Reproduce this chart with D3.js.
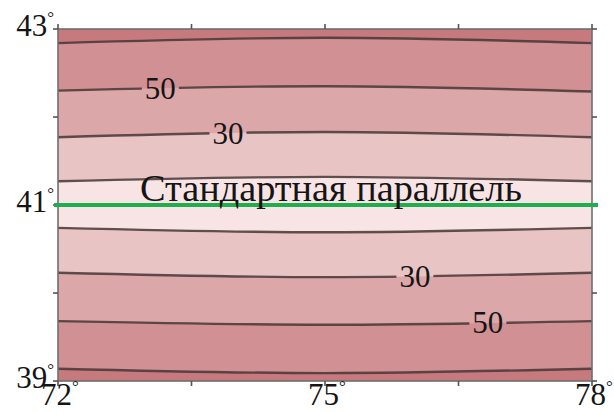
<!DOCTYPE html>
<html>
<head>
<meta charset="utf-8">
<script src="https://cdn.jsdelivr.net/npm/d3@7"></script>
<style>
  html, body { margin: 0; padding: 0; background: #fff; }
</style>
</head>
<body>
<svg id="chart" width="614" height="412"></svg>
<script>
(function() {
    'use strict';

    var SERIF = '"Liberation Serif", Tinos, "Times New Roman", Times, "DejaVu Serif", "Noto Serif", serif';

    // Longitudes where contour lines are read (edges and centre)
    var contourLons = [72, 75, 78];

    // Contour lines above the standard parallel (lat at 72°, 75°, 78°), inner -> outer
    var upperLines = [
        [41.27, 41.32, 41.27],
        [41.77, 41.83, 41.77],
        [42.30, 42.35, 42.29],
        [42.84, 42.90, 42.84]
    ];
    // Contour lines below the standard parallel, inner -> outer
    var lowerLines = [
        [40.74, 40.69, 40.74],
        [40.23, 40.18, 40.23],
        [39.68, 39.64, 39.68],
        [39.14, 39.09, 39.14]
    ];

    // Band fill colours, outermost -> innermost
    var bandColors = ['#c77a7e', '#d19093', '#dca7a8', '#e9c4c5', '#f8e4e5'];

    var contourLabels = [
        { text: '50', lon: 73.15, lat: 42.33 },
        { text: '30', lon: 73.91, lat: 41.82 },
        { text: '30', lon: 76.01, lat: 40.19 },
        { text: '50', lon: 76.83, lat: 39.665 }
    ];

    var lonTicks = [72, 73.5, 75, 76.5, 78];
    var lonLabels = [72, 75, 78];
    var latTicks = [39, 40, 41, 42, 43];
    var latLabels = [39, 41, 43];

    var standardParallel = 41;
    var parallelName = 'Стандартная параллель';

    var svg = d3.select('#chart');
    var margin = { top: 29, right: 22, bottom: 31, left: 58 };
    var width = 614, height = 412;

    var x = d3.scaleLinear().domain([72, 78]).range([margin.left, width - margin.right]);
    var y = d3.scaleLinear().domain([39, 43]).range([height - margin.bottom, margin.top]);

    var x0 = x(72), x1 = x(78), y0 = y(43), y1 = y(39);

    var line = d3.line()
        .x(function(d) { return x(d[0]); })
        .y(function(d) { return y(d[1]); })
        .curve(d3.curveNatural);

    function pts(lats) {
        return contourLons.map(function(lon, i) { return [lon, lats[i]]; });
    }

    var defs = svg.append('defs');
    defs.append('clipPath').attr('id', 'plot-clip')
        .append('rect').attr('x', x0).attr('y', y0).attr('width', x1 - x0).attr('height', y1 - y0);

    var plot = svg.append('g').attr('clip-path', 'url(#plot-clip)');

    // Base (outermost band)
    plot.append('rect')
        .attr('x', x0).attr('y', y0).attr('width', x1 - x0).attr('height', y1 - y0)
        .attr('fill', bandColors[0]);

    // Nested bands: region between upper line k and lower line k
    for (var k = upperLines.length - 1; k >= 0; k--) {
        var upPath = line(pts(upperLines[k]));
        var loPath = line(pts(lowerLines[k]).reverse()).replace(/^M/, 'L');
        plot.append('path')
            .attr('d', upPath + loPath + 'Z')
            .attr('fill', bandColors[upperLines.length - k]);
    }

    // Contour lines with gaps behind labels
    var mask = defs.append('mask').attr('id', 'label-mask').attr('maskUnits', 'userSpaceOnUse')
        .attr('x', 0).attr('y', 0).attr('width', width).attr('height', height);
    mask.append('rect').attr('width', width).attr('height', height).attr('fill', '#fff');

    var linesG = plot.append('g').attr('mask', 'url(#label-mask)');
    upperLines.concat(lowerLines).forEach(function(lats) {
        linesG.append('path')
            .attr('d', line(pts(lats)))
            .attr('fill', 'none')
            .attr('stroke', '#463636')
            .attr('stroke-opacity', 0.85)
            .attr('stroke-width', 2.4);
    });

    var labelG = svg.append('g');
    contourLabels.forEach(function(d) {
        var t = labelG.append('text')
            .attr('x', x(d.lon))
            .attr('y', y(d.lat))
            .attr('dy', '0.35em')
            .attr('text-anchor', 'middle')
            .attr('font-family', SERIF)
            .attr('font-size', 31)
            .attr('fill', '#151515')
            .text(d.text);
        var b = t.node().getBBox();
        mask.append('rect')
            .attr('x', b.x - 3).attr('y', b.y).attr('width', b.width + 6).attr('height', b.height)
            .attr('fill', '#000');
    });

    // Frame
    svg.append('rect')
        .attr('x', x0).attr('y', y0).attr('width', x1 - x0).attr('height', y1 - y0)
        .attr('fill', 'none')
        .attr('stroke', '#6f6f6f')
        .attr('stroke-width', 1.6);

    // Ticks (outside on all four sides)
    var tickG = svg.append('g').attr('stroke', '#555').attr('stroke-width', 1.6);
    lonTicks.forEach(function(v) {
        tickG.append('line').attr('x1', x(v)).attr('x2', x(v)).attr('y1', y0).attr('y2', y0 - 5);
        tickG.append('line').attr('x1', x(v)).attr('x2', x(v)).attr('y1', y1).attr('y2', y1 + 5);
    });
    latTicks.forEach(function(v) {
        tickG.append('line').attr('x1', x0).attr('x2', x0 - 5).attr('y1', y(v)).attr('y2', y(v));
        tickG.append('line').attr('x1', x1).attr('x2', x1 + 5).attr('y1', y(v)).attr('y2', y(v));
    });

    // Standard parallel
    svg.append('line')
        .attr('x1', x0 - 4).attr('x2', x1 + 6)
        .attr('y1', y(standardParallel)).attr('y2', y(standardParallel))
        .attr('stroke', '#1fae4e')
        .attr('stroke-width', 4);

    var title = svg.append('text')
        .attr('x', 140)
        .attr('y', y(standardParallel) - 4)
        .attr('font-family', SERIF)
        .attr('font-size', 33)
        .attr('fill', '#151515')
        .text(parallelName);
    // fit the caption to the span it has in the reference
    var len = title.node().getComputedTextLength();
    if (len > 0) title.attr('font-size', 33 * 382 / len);

    // Axis labels
    function degLabel(sel, v) {
        sel.append('tspan').text(v);
        sel.append('tspan').attr('font-size', 17).attr('dy', -13).text('°');
    }

    lonLabels.forEach(function(v) {
        var t = svg.append('text')
            .attr('x', x(v) + 2)
            .attr('y', height - 7)
            .attr('text-anchor', 'middle')
            .attr('font-family', SERIF)
            .attr('font-size', 31)
            .attr('fill', '#151515');
        degLabel(t, v);
        var b = t.node().getBBox();
        if (b.x + b.width > width - 1) t.attr('x', x(v) + 2 - (b.x + b.width - width + 1));
    });

    latLabels.forEach(function(v) {
        var t = svg.append('text')
            .attr('x', x0 - 4)
            .attr('y', y(v) + 7)
            .attr('text-anchor', 'end')
            .attr('font-family', SERIF)
            .attr('font-size', 31)
            .attr('fill', '#151515');
        degLabel(t, v);
    });
})();
</script>
</body>
</html>
